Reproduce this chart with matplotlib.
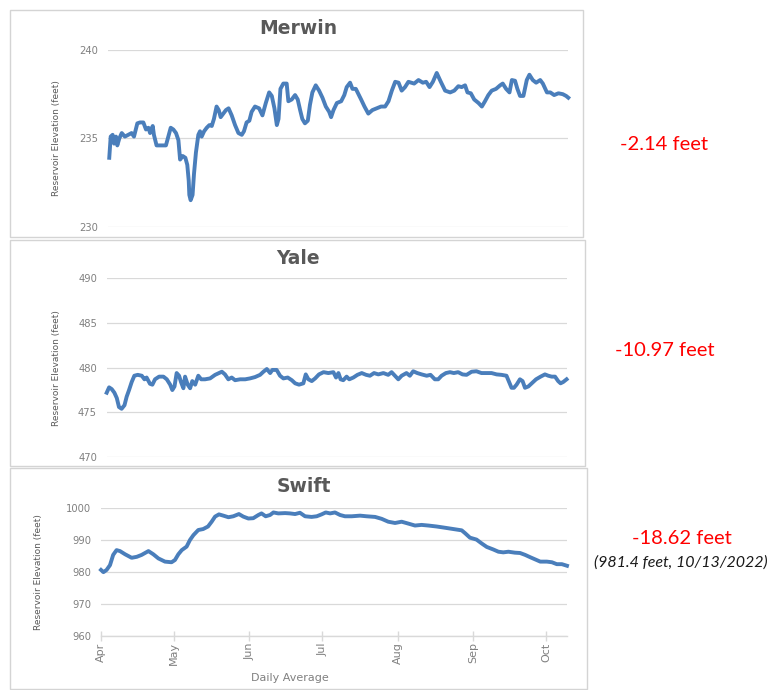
import matplotlib
matplotlib.use("Agg")
import matplotlib.pyplot as plt
from matplotlib.patches import Rectangle

# ---------------- data (day offset from Apr 1, elevation in feet) ----------------
merwin_days = [0.4, 1, 1.8, 2.4, 3.2, 3.75, 4.6, 5.6, 6.9, 8.3, 9.7, 10.7, 12.1, 13.2, 14.6, 15.7,
               16.7, 17.4, 18.5, 19.0, 20.1, 22.2, 24.0, 25.0, 26.0, 27.1, 28.2, 29.2, 29.9, 31.0,
               32.1, 32.9, 33.5, 33.75, 34.3, 35.1, 35.7, 36.5, 37.5, 38.2, 38.9, 39.9, 41.0, 42.1,
               43.1, 44.0, 45.1, 46.0, 46.8, 47.9, 49.0, 50.1, 51.4, 52.8, 54.2, 55.6, 56.5, 57.6,
               58.75, 59.7, 61.1, 62.8, 64.2, 65.6, 67.0, 68.1, 69.2, 70.2, 70.9, 71.7, 72.9, 74.3,
               75.0, 76.4, 77.8, 78.9, 79.9, 80.8, 81.9, 83.1, 84.0, 85.0, 86.4, 87.8, 89.2, 90.6,
               92.0, 92.8, 93.8, 95.2, 97.0, 98.3, 99.3, 100.7, 101.7, 103.1, 104.2, 105.3, 106.7,
               108.3, 110.0, 111.8, 113.6, 115.3, 116.7, 118.1, 119.5, 120.9, 122.2, 123.6, 125.0,
               127.4, 129.2, 131.0, 132.4, 133.8, 135.2, 136.8, 138.5, 140.3, 142.4, 144.1, 145.8,
               147.2, 148.6, 149.6, 151.0, 152.4, 154.2, 155.6, 156.9, 158.3, 159.7, 161.5, 163.2,
               164.3, 165.7, 167.1, 168.1, 169.4, 170.4, 171.5, 172.9, 174.3, 175.4, 176.8, 178.2,
               179.9, 181.0, 182.7, 184.1, 185.7, 187.5, 189.3, 190.7, 191.6]
merwin_vals = [233.9, 235.1, 235.2, 234.7, 235.1, 234.6, 235.0, 235.3, 235.1, 235.2, 235.3, 235.1,
               235.85, 235.9, 235.9, 235.5, 235.6, 235.3, 235.7, 235.2, 234.6, 234.6, 234.6, 235.1,
               235.6, 235.5, 235.3, 234.9, 233.8, 234.0, 233.9, 233.5, 232.6, 231.8, 231.5, 231.8,
               233.0, 234.2, 235.2, 235.4, 235.1, 235.4, 235.6, 235.75, 235.7, 236.1, 236.8, 236.6,
               236.2, 236.4, 236.6, 236.7, 236.3, 235.75, 235.3, 235.2, 235.4, 235.9, 236.0, 236.5,
               236.8, 236.7, 236.3, 237.0, 237.6, 237.4, 236.7, 235.75, 236.1, 237.8, 238.1, 238.1,
               237.1, 237.2, 237.45, 237.2, 236.6, 236.1, 235.85, 236.0, 236.9, 237.6, 238.0, 237.7,
               237.3, 236.8, 236.5, 236.2, 236.6, 237.0, 237.1, 237.45, 237.9, 238.15, 237.8, 237.8,
               237.5, 237.2, 236.8, 236.4, 236.6, 236.7, 236.8, 236.8, 237.1, 237.7, 238.2, 238.15,
               237.7, 237.9, 238.2, 238.1, 238.3, 238.15, 238.2, 237.9, 238.2, 238.7, 238.2, 237.7,
               237.6, 237.7, 237.95, 237.9, 238.0, 237.6, 237.55, 237.2, 237.0, 236.8, 237.1, 237.45,
               237.7, 237.8, 238.0, 238.1, 237.8, 237.6, 238.3, 238.26, 237.8, 237.4, 237.4, 238.3,
               238.6, 238.3, 238.15, 238.3, 238.1, 237.6, 237.6, 237.45, 237.55, 237.5, 237.4, 237.3]

yale_days = [0, 1, 2.1, 3.2, 4.2, 5.1, 6.2, 7.4, 8.3, 9.3, 10.4, 11.5, 12.9, 14.6, 15.7, 16.6, 18.0,
             19.0, 20.1, 21.8, 23.6, 25.0, 26.4, 27.3, 28.2, 29.1, 30.1, 30.9, 31.9, 32.6, 33.7,
             34.7, 35.6, 36.8, 38.1, 39.3, 40.9, 43.0, 45.1, 46.7, 47.9, 49.2, 50.6, 52.0, 53.4,
             55.5, 57.6, 59.6, 61.7, 63.8, 65.2, 66.6, 68.0, 68.9, 70.7, 72.1, 73.5, 75.3, 77.0,
             78.4, 80.0, 81.8, 82.8, 83.9, 85.3, 86.7, 88.3, 90.2, 92.2, 94.3, 95.4, 96.4, 97.3,
             98.4, 99.8, 100.9, 102.6, 104.3, 106.1, 107.9, 109.5, 111.2, 113.0, 115.1, 117.1,
             118.5, 119.9, 121.3, 122.7, 124.7, 126.1, 127.5, 129.2, 131.0, 133.1, 134.7, 136.5,
             137.9, 139.3, 141.1, 142.8, 144.4, 146.2, 148.0, 149.7, 151.8, 153.8, 155.9, 158.0,
             160.1, 162.2, 164.2, 166.3, 167.4, 168.4, 169.4, 170.5, 171.9, 173.0, 174.0, 175.4,
             176.8, 178.6, 180.5, 182.3, 183.7, 185.1, 186.5, 187.8, 188.8, 189.9, 191.3]
yale_vals = [477.2, 477.8, 477.6, 477.2, 476.6, 475.6, 475.4, 475.8, 476.75, 477.5, 478.4, 479.1,
             479.2, 479.1, 478.7, 478.9, 478.2, 478.1, 478.7, 479.0, 479.0, 478.7, 478.1, 477.5,
             477.9, 479.4, 479.1, 478.4, 477.7, 479.0, 478.1, 477.7, 478.5, 478.1, 479.1, 478.7,
             478.7, 478.8, 479.2, 479.4, 479.55, 479.25, 478.7, 478.9, 478.6, 478.7, 478.7, 478.8,
             478.95, 479.2, 479.55, 479.85, 479.4, 479.75, 479.75, 479.1, 478.8, 478.9, 478.6,
             478.25, 478.1, 478.25, 479.25, 478.7, 478.5, 478.8, 479.25, 479.5, 479.4, 479.5,
             478.9, 479.4, 478.7, 478.6, 479.0, 478.7, 478.9, 479.2, 479.4, 479.2, 479.1, 479.4,
             479.25, 479.4, 479.2, 479.5, 479.1, 478.7, 479.1, 479.4, 479.1, 479.6, 479.4, 479.25,
             479.1, 479.2, 478.7, 478.7, 479.1, 479.4, 479.5, 479.4, 479.5, 479.25, 479.2, 479.55,
             479.6, 479.4, 479.4, 479.4, 479.25, 479.2, 479.1, 478.4, 477.75, 477.75, 478.1, 478.7,
             478.5, 477.75, 477.9, 478.25, 478.7, 479.0, 479.25, 479.1, 479.0, 479.0, 478.5,
             478.25, 478.4, 478.7]

swift_days = [0, 1, 2.3, 3.7, 5.0, 6.4, 7.8, 9.9, 12.6, 14.7, 16.7, 19.5, 21.5, 23.6, 26.3, 29.0,
              30.4, 31.8, 33.2, 35.2, 36.6, 38.0, 40.0, 42.0, 44.0, 45.5, 46.9, 48.5, 50.3, 52.4,
              54.4, 56.7, 58.5, 60.6, 62.6, 64.7, 66.0, 67.7, 69.5, 70.9, 72.9, 75.7, 77.7, 79.8,
              81.8, 83.9, 86.6, 88.7, 90.7, 92.4, 94.2, 96.2, 98.3, 100.3, 103.1, 106.5, 109.2,
              112.7, 115.4, 118.1, 120.9, 123.6, 126.4, 129.1, 131.8, 134.6, 138.0, 141.5, 144.9,
              148.3, 149.7, 151.7, 154.4, 156.5, 158.6, 161.3, 163.4, 165.4, 167.5, 170.2, 172.3,
              174.4, 176.4, 178.5, 180.6, 183.3, 185.4, 187.4, 189.5, 191.6]
swift_vals = [980.7, 980.0, 980.7, 982.2, 985.4, 986.9, 986.6, 985.6, 984.5, 984.8, 985.4, 986.6,
              985.6, 984.3, 983.3, 983.1, 983.8, 985.6, 986.9, 988.0, 990.1, 991.6, 993.2, 993.5,
              994.3, 995.8, 997.4, 998.1, 997.7, 997.2, 997.5, 998.2, 997.4, 996.8, 996.9, 997.9,
              998.4, 997.5, 997.9, 998.7, 998.4, 998.5, 998.4, 998.2, 998.6, 997.5, 997.3, 997.5,
              998.1, 998.7, 998.4, 998.7, 997.9, 997.5, 997.5, 997.7, 997.5, 997.3, 996.7, 995.8,
              995.4, 995.8, 995.2, 994.6, 994.8, 994.6, 994.3, 993.9, 993.5, 993.1, 992.2, 990.8,
              990.2, 989.0, 987.9, 987.1, 986.4, 986.2, 986.4, 986.1, 986.0, 985.4, 984.7, 984.0,
              983.3, 983.3, 983.1, 982.5, 982.5, 982.0]

titles = ["Merwin", "Yale", "Swift"]
month_days = [0, 30, 61, 91, 122, 153, 183]
month_labels = ["Apr", "May", "Jun", "Jul", "Aug", "Sep", "Oct"]
merwin_ticks = [230, 235, 240]
yale_ticks = [470, 475, 480, 485, 490]
swift_ticks = [960, 970, 980, 990, 1000]
changes = ["-2.14 feet", "-10.97 feet", "-18.62 feet"]
swift_note = "(981.4 feet, 10/13/2022)"
ylabel = "Reservoir Elevation (feet)"

# ---------------- figure ----------------
W, H = 775, 690
fig = plt.figure(figsize=(W / 100, H / 100), dpi=100)
fig.patch.set_facecolor("white")

def px_rect(x0, y0, x1, y1):
    return [x0 / W, 1 - y1 / H, (x1 - x0) / W, (y1 - y0) / H]

LINE = "#4a7ebb"
GRID = "#d9d9d9"
TXT = "#808080"

# panel frames
for (x0, y0, x1, y1) in [(10, 10, 583, 237), (10, 240, 585, 466), (10, 468, 587, 689)]:
    fig.patches.append(Rectangle((x0 / W, 1 - y1 / H), (x1 - x0) / W, (y1 - y0) / H,
                                 transform=fig.transFigure, fill=False,
                                 edgecolor="#d4d4d4", lw=1.0))

panels = [
    (merwin_days, merwin_vals, merwin_ticks, (108.3, 50, 568.3, 226.7), (298, 29), 57),
    (yale_days, yale_vals, yale_ticks, (106.7, 278.4, 567.3, 457), (298, 258), 57),
    (swift_days, swift_vals, swift_ticks, (101, 508.3, 567, 636), (304, 486), 38),
]

for i, (d, v, ticks, box, tpos, ylx) in enumerate(panels):
    ax = fig.add_axes(px_rect(*box))
    ax.plot(d, v, color=LINE, lw=2.8, solid_joinstyle="round", clip_on=False)
    ax.set_xlim(0, 191.6)
    ax.set_ylim(ticks[0], ticks[-1])
    ax.set_yticks(ticks)
    ax.set_yticklabels([str(t) for t in ticks], color=TXT, fontsize=7.2)
    ax.yaxis.grid(True, color=GRID, lw=0.9)
    ax.set_axisbelow(True)
    for s in ["top", "right", "left"]:
        ax.spines[s].set_visible(False)
    ax.tick_params(axis="y", length=0, pad=7)
    if i < 2:
        ax.spines["bottom"].set_visible(False)
        ax.set_xticks([])
    else:
        ax.spines["bottom"].set_color(GRID)
        ax.spines["bottom"].set_linewidth(1.0)
        ax.set_xticks(month_days)
        ax.set_xticklabels(month_labels, rotation=90, color=TXT, fontsize=8)
        ax.tick_params(axis="x", direction="inout", length=7, color=GRID, width=1.0, pad=1)
    fig.text(tpos[0] / W, 1 - tpos[1] / H, titles[i], ha="center", va="center",
             fontsize=13.5, fontweight="bold", color="#595959")
    cy = (box[1] + box[3]) / 2
    fig.text(ylx / W, 1 - cy / H, ylabel, rotation=90, ha="center", va="center",
             fontsize=6.5, color="#595959")

fig.text(290 / W, 1 - 678 / H, "Daily Average", ha="center", va="center",
         fontsize=8, color=TXT)

# annotations
fig.text(664 / W, 1 - 145 / H, changes[0], ha="center", va="center", fontsize=14.5,
         color="#ff0000", family="Lato")
fig.text(665 / W, 1 - 351 / H, changes[1], ha="center", va="center", fontsize=14.5,
         color="#ff0000", family="Lato")
fig.text(682 / W, 1 - 538 / H, changes[2], ha="center", va="center", fontsize=14.5,
         color="#ff0000", family="Lato")
fig.text(681 / W, 1 - 563 / H, swift_note, ha="center", va="center", fontsize=11.5,
         color="#1a1a1a", family="Lato", style="italic")

fig.savefig("out.png", dpi=100, facecolor="white")
